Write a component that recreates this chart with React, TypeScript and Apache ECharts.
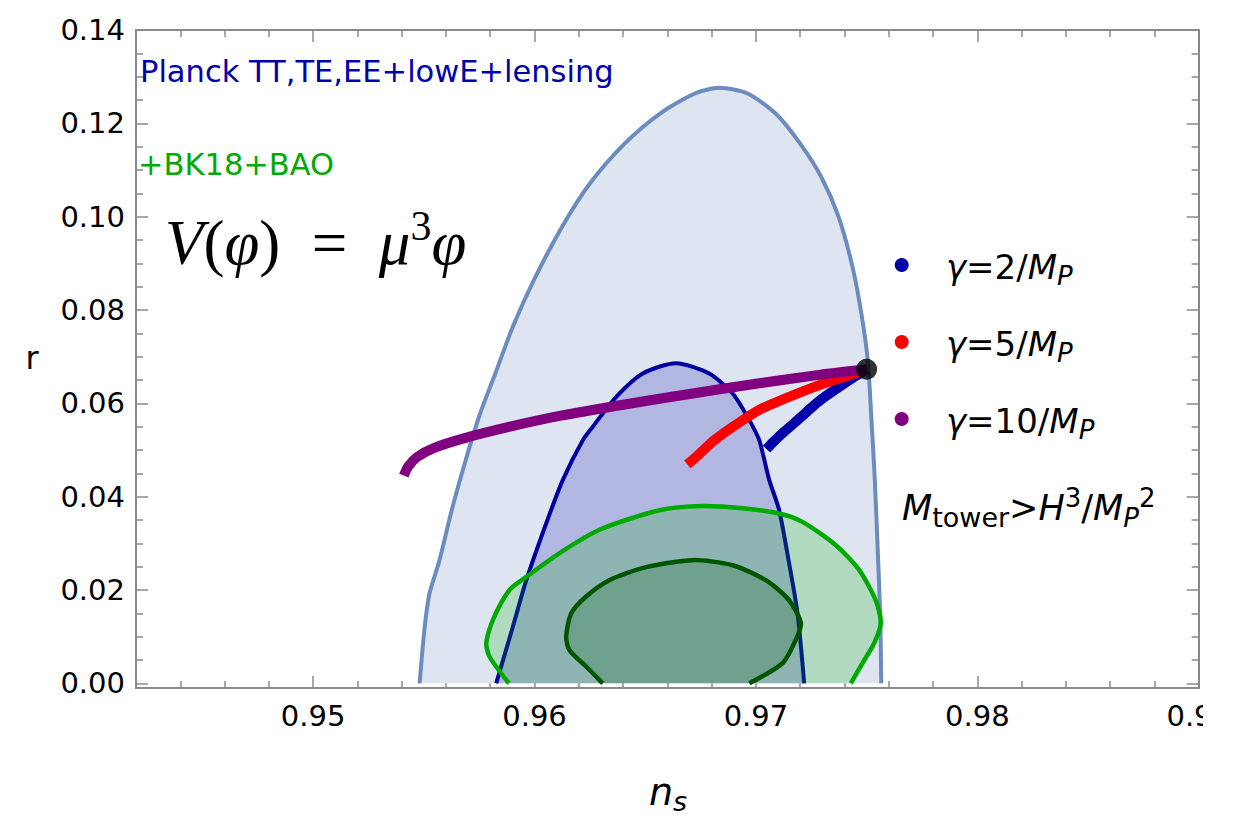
import React, { useEffect, useRef } from "react";
import * as echarts from "echarts";

const FONT = "'DejaVu Sans', Verdana, sans-serif";
const SERIF = "'Liberation Serif', 'Times New Roman', serif";

const X_MIN = 0.942;
const X_MAX = 0.99;
const Y_MIN = -0.001;
const Y_MAX = 0.14;

const xMajor = [0.95, 0.96, 0.97, 0.98, 0.99];
const xMinor = [
  0.944, 0.946, 0.948, 0.952, 0.954, 0.956, 0.958, 0.962, 0.964, 0.966, 0.968,
  0.972, 0.974, 0.976, 0.978, 0.982, 0.984, 0.986, 0.988,
];
const yMajor = [0, 0.02, 0.04, 0.06, 0.08, 0.1, 0.12, 0.14];
const yMinor = [
  0.005, 0.01, 0.015, 0.025, 0.03, 0.035, 0.045, 0.05, 0.055, 0.065, 0.07,
  0.075, 0.085, 0.09, 0.095, 0.105, 0.11, 0.115, 0.125, 0.13, 0.135,
];

// Planck TT,TE,EE+lowE+lensing outer (95%) contour
const planckOuter = [
  [0.95481, 0], [0.95504, 0.0121], [0.95526, 0.0193], [0.95571, 0.0264],
  [0.95626, 0.0371], [0.95689, 0.0478], [0.95752, 0.0575], [0.95823, 0.0664],
  [0.95902, 0.0764], [0.95997, 0.0864], [0.96124, 0.0978], [0.9625, 0.1071],
  [0.96408, 0.1157], [0.96567, 0.1221], [0.96724, 0.1264], [0.96835, 0.1276],
  [0.96962, 0.1264], [0.97089, 0.1221], [0.97199, 0.1157], [0.97294, 0.1086],
  [0.97373, 0.1], [0.97436, 0.0893], [0.97476, 0.0793], [0.97505, 0.0693],
  [0.97522, 0.0564], [0.97537, 0.0436], [0.97552, 0.0264], [0.97562, 0.0136],
  [0.97566, 0],
];
// Planck inner (68%) contour
const planckInner = [
  [0.95827, 0], [0.95902, 0.0121], [0.95963, 0.0221], [0.96053, 0.0343],
  [0.96128, 0.0436], [0.96218, 0.0521], [0.96263, 0.055], [0.96369, 0.0614],
  [0.96489, 0.0664], [0.96639, 0.0686], [0.96789, 0.0664], [0.96895, 0.0621],
  [0.9697, 0.0564], [0.97015, 0.0521], [0.9706, 0.0436], [0.97105, 0.0371],
  [0.9715, 0.0257], [0.97188, 0.015], [0.97218, 0],
];
// +BK18+BAO outer contour
const bkOuter = [
  [0.95884, 0], [0.95797, 0.0057], [0.95782, 0.0086], [0.95812, 0.0136],
  [0.95887, 0.02], [0.95963, 0.0228], [0.96113, 0.0279], [0.96293, 0.0329],
  [0.96564, 0.0371], [0.96759, 0.038], [0.9694, 0.0375], [0.97105, 0.0364],
  [0.9721, 0.0346], [0.97361, 0.0296], [0.97466, 0.0243], [0.97541, 0.0178],
  [0.97564, 0.0129], [0.97534, 0.0086], [0.97481, 0.0043], [0.97429, 0],
];
// +BK18+BAO inner contour
const bkInner = [
  [0.96308, 0], [0.96233, 0.0036], [0.96158, 0.0071], [0.96143, 0.01],
  [0.96166, 0.015], [0.96233, 0.0186], [0.96338, 0.0221], [0.96504, 0.0249],
  [0.96714, 0.0264], [0.96895, 0.0253], [0.97045, 0.0221], [0.9715, 0.0178],
  [0.97203, 0.0129], [0.9718, 0.0093], [0.9712, 0.0043], [0.9697, 0],
];

// predictions
const gamma2 = [
  [0.97048, 0.0502], [0.9708, 0.0518], [0.9713, 0.054], [0.972, 0.0569],
  [0.97286, 0.0605], [0.974, 0.0643], [0.975, 0.0673],
];
const gamma5 = [
  [0.9669, 0.0469], [0.9673, 0.0485], [0.9677, 0.0503], [0.96812, 0.0521],
  [0.969, 0.0551], [0.97015, 0.0586], [0.9715, 0.0614], [0.97286, 0.0639],
  [0.974, 0.0657], [0.975, 0.0673],
];
const gamma10 = [
  [0.9541, 0.0445], [0.9543, 0.0465], [0.9547, 0.0485], [0.9555, 0.0505],
  [0.9568, 0.0525], [0.9588, 0.0549], [0.96113, 0.0573], [0.964, 0.0597],
  [0.967, 0.062], [0.97015, 0.0643], [0.97286, 0.0661], [0.975, 0.0673],
];
const endPoint = [[0.975, 0.0673]];

const legendItems = [
  { num: "2", color: "#0000AA" },
  { num: "5", color: "#FF0000" },
  { num: "10", color: "#800080" },
];

const GRAY = "#8a8a8a";

function contour(name: string, pts: number[][], fill: string, stroke: string, lw: number) {
  return {
    name,
    type: "custom",
    coordinateSystem: "cartesian2d",
    silent: true,
    data: [pts[0]],
    renderItem: (_params: any, api: any) => {
      const p = pts.map((d) => api.coord(d));
      return {
        type: "group",
        children: [
          { type: "polygon", shape: { points: p }, style: { fill, stroke: "none" } },
          {
            type: "polyline",
            shape: { points: p, smooth: 0.25 },
            style: { fill: "none", stroke, lineWidth: lw, lineJoin: "round" },
          },
        ],
      };
    },
  };
}

function predLine(name: string, pts: number[][], color: string) {
  return {
    name,
    type: "line",
    data: pts,
    showSymbol: false,
    smooth: 0.3,
    silent: true,
    lineStyle: { color, width: 10, cap: "butt" },
  };
}

function xAx(pos: "bottom" | "top", ticks: number[], len: number, labels: boolean) {
  return {
    type: "value",
    min: X_MIN,
    max: X_MAX,
    position: pos,
    axisLine: { show: true, onZero: false, lineStyle: { color: GRAY, width: 2 } },
    axisTick: { show: true, inside: true, length: len, customValues: ticks, lineStyle: { color: GRAY, width: 1.5 } },
    axisLabel: labels
      ? {
          show: true,
          customValues: ticks,
          formatter: (v: number) => v.toFixed(2),
          color: "#000",
          fontSize: 29,
          fontFamily: FONT,
          margin: 13,
        }
      : { show: false },
    splitLine: { show: false },
  };
}

function yAx(pos: "left" | "right", ticks: number[], len: number, labels: boolean) {
  return {
    type: "value",
    min: Y_MIN,
    max: Y_MAX,
    position: pos,
    axisLine: { show: true, onZero: false, lineStyle: { color: GRAY, width: 2 } },
    axisTick: { show: true, inside: true, length: len, customValues: ticks, lineStyle: { color: GRAY, width: 1.5 } },
    axisLabel: labels
      ? {
          show: true,
          customValues: ticks,
          formatter: (v: number) => v.toFixed(2),
          color: "#000",
          fontSize: 29,
          fontFamily: FONT,
          margin: 11,
        }
      : { show: false },
    splitLine: { show: false },
  };
}

export default function App() {
  const ref = useRef<HTMLDivElement>(null);
  useEffect(() => {
    if (!ref.current) return;
    const chart = echarts.init(ref.current, null, { renderer: "svg" });
    const legendGraphics: any[] = [];
    legendItems.forEach((it, i) => {
      const cy = 265 + i * 77;
      legendGraphics.push({
        type: "circle",
        shape: { cx: 901.7, cy, r: 7 },
        style: { fill: it.color },
      });
      legendGraphics.push({
        type: "text",
        x: 946,
        y: cy + 2,
        style: {
          text: `{i|γ}=${it.num}/{i|M}{s|P}`,
          fontSize: 34,
          fontFamily: FONT,
          fill: "#000",
          verticalAlign: "middle",
          lineHeight: 44,
          rich: {
            i: { fontSize: 34, fontStyle: "italic", fontFamily: FONT },
            s: { fontSize: 26, fontStyle: "italic", fontFamily: FONT, verticalAlign: "bottom" },
          },
        },
      });
    });

    chart.setOption({
      animation: false,
      backgroundColor: "#ffffff",
      grid: { left: 136, right: 34, top: 30, bottom: 128, containLabel: false },
      xAxis: [
        xAx("bottom", xMajor, 12, true),
        xAx("bottom", xMinor, 7, false),
        xAx("top", xMajor, 12, false),
        xAx("top", xMinor, 7, false),
      ],
      yAxis: [
        yAx("left", yMajor, 12, true),
        yAx("left", yMinor, 7, false),
        yAx("right", yMajor, 12, false),
        yAx("right", yMinor, 7, false),
      ],
      series: [
        contour("Planck outer", planckOuter, "#DFE5F0", "#6B8CBF", 4),
        contour("Planck inner", planckInner, "rgba(0,0,170,0.2)", "#00009E", 4),
        contour("BK18 outer", bkOuter, "rgba(0,175,0,0.2)", "#00AA00", 4.5),
        contour("BK18 inner", bkInner, "rgba(0,84,0,0.21)", "#005500", 4.5),
        predLine("γ=2/M_P", gamma2, "#0000AA"),
        predLine("γ=5/M_P", gamma5, "#FF0000"),
        predLine("γ=10/M_P", gamma10, "#800080"),
        {
          name: "end point",
          type: "scatter",
          data: endPoint,
          symbolSize: 21,
          itemStyle: { color: "#000" },
          silent: true,
          z: 5,
        },
      ],
      graphic: [
        {
          type: "text",
          x: 140,
          y: 71,
          style: {
            text: "Planck TT,TE,EE+lowE+lensing",
            fontSize: 30.5,
            fontFamily: FONT,
            fill: "#0000B0",
            verticalAlign: "middle",
          },
        },
        {
          type: "text",
          x: 138,
          y: 164,
          style: {
            text: "+BK18+BAO",
            fontSize: 30.5,
            fontFamily: FONT,
            fill: "#00AA00",
            verticalAlign: "middle",
          },
        },
        {
          type: "text",
          x: 165,
          y: 243,
          style: {
            text: "{i|V}(" + "{i|φ})  =  {i|μ}{sup|3}{i|φ}",
            fontSize: 63,
            fontFamily: SERIF,
            fill: "#000",
            verticalAlign: "middle",
            lineHeight: 76,
            rich: {
              i: { fontSize: 63, fontStyle: "italic", fontFamily: SERIF },
              sup: { fontSize: 42, fontFamily: SERIF, verticalAlign: "top" },
            },
          },
        },
        ...legendGraphics,
        {
          type: "text",
          x: 902,
          y: 508,
          style: {
            text: "{i|M}{s|tower}>{i|H}{p|3}/{i|M}{si|P}{p|2}",
            fontSize: 35,
            fontFamily: FONT,
            fill: "#000",
            verticalAlign: "middle",
            lineHeight: 46,
            rich: {
              i: { fontSize: 35, fontStyle: "italic", fontFamily: FONT },
              s: { fontSize: 27, fontFamily: FONT, verticalAlign: "bottom" },
              si: { fontSize: 26, fontStyle: "italic", fontFamily: FONT, verticalAlign: "bottom" },
              p: { fontSize: 26, fontFamily: FONT, verticalAlign: "top" },
            },
          },
        },
        {
          type: "text",
          x: 32,
          y: 358,
          style: {
            text: "r",
            fontSize: 32,
            fontFamily: FONT,
            fill: "#000",
            align: "center",
            verticalAlign: "middle",
          },
        },
        {
          type: "text",
          x: 668,
          y: 792,
          style: {
            text: "{i|n}{s|s}",
            fontSize: 38,
            fontFamily: FONT,
            fill: "#000",
            align: "center",
            verticalAlign: "middle",
            lineHeight: 46,
            rich: {
              i: { fontSize: 38, fontStyle: "italic", fontFamily: FONT },
              s: { fontSize: 27, fontStyle: "italic", fontFamily: FONT, verticalAlign: "bottom" },
            },
          },
        },
        {
          type: "rect",
          z: 100,
          shape: { x: 1203, y: 0, width: 40, height: 816 },
          style: { fill: "#ffffff" },
        },
      ],
    });
    return () => chart.dispose();
  }, []);
  return (
    <div
      ref={ref}
      style={{ position: "absolute", left: 0, top: 0, width: 1234, height: 816, background: "#fff" }}
    />
  );
}
